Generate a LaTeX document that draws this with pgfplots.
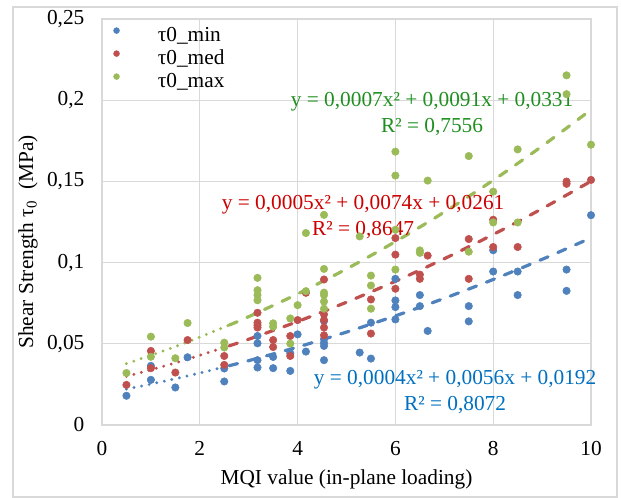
\documentclass[border=0pt]{standalone}
\usepackage{fontspec}
\setmainfont{Liberation Serif}
\usepackage{pgfplots}
\pgfplotsset{compat=1.18}

\definecolor{cblue}{HTML}{4F81BD}
\definecolor{cred}{HTML}{C0504D}
\definecolor{cgreen}{HTML}{9BBB59}
\definecolor{tblue}{HTML}{0070C0}
\definecolor{tred}{HTML}{CC0000}
\definecolor{tgreen}{HTML}{1F8F1F}
\definecolor{gridgray}{HTML}{D9D9D9}
\newcommand{\cf}{\fontsize{16}{19}\selectfont}

\pgfplotsset{
  pts/.style={only marks, mark=*, mark size=2.8pt, color=#1},
  trdot/.style={forget plot, smooth, color=#1, line width=2.4pt, line cap=round, dash pattern=on 0pt off 5.8pt},
  trdash/.style={forget plot, smooth, color=#1, line width=2.4pt, line cap=round, dash pattern=on 6.5pt off 8pt},
}

\begin{document}
\begin{tikzpicture}
\begin{axis}[
  width=366.75pt, height=304.5pt, scale only axis,
  xmin=0, xmax=10, ymin=0, ymax=0.25,
  xtick={0,2,4,6,8,10}, xticklabels={0,2,4,6,8,10},
  ytick={0,0.05,0.1,0.15,0.2,0.25},
  yticklabels={0,{0,05},{0,1},{0,15},{0,2},{0,25}},
  major tick length=0pt,
  tick label style={font=\cf},
  xticklabel style={yshift=-8.7pt},
  yticklabel style={xshift=-9.7pt},
  grid=major,
  major grid style={draw=gridgray, line width=1pt},
  axis line style={draw=gridgray, line width=1pt},
  clip=false,
  legend style={at={(0,1)}, anchor=north west, xshift=8.3pt, yshift=-5.75pt,
    draw=none, fill=none, inner sep=0pt, row sep=2.75pt, column sep=0pt,
    font=\cf, nodes={inner sep=0pt, text height=11pt, text depth=3.5pt}},
  legend cell align=left,
  legend image code/.code={\fill (0pt,4.5pt) circle (2.2pt); \path (-2.2pt,0pt) (30.75pt,0pt);},
]

% tau0_min
\addplot[pts=cblue] coordinates {
 (0.5,0.018) (1,0.0364) (1,0.0278) (1.5,0.0231) (1.75,0.0417)
 (2.5,0.0348) (2.5,0.0268)
 (3.18,0.0548) (3.18,0.0503) (3.18,0.0399) (3.18,0.0354)
 (3.5,0.0419) (3.5,0.035) (3.85,0.0442) (3.85,0.0333) (4,0.0558) (4.17,0.0452)
 (4.54,0.064) (4.54,0.0528) (4.54,0.0505) (4.54,0.0487) (4.54,0.0399)
 (5.27,0.0446) (5.5,0.063) (5.5,0.0409)
 (6,0.090) (6,0.0767) (6,0.0726) (6,0.065)
 (6.5,0.080) (6.5,0.0732) (6.66,0.0579)
 (7.5,0.0732) (7.5,0.0638) (8,0.1076) (8,0.0945)
 (8.5,0.0945) (8.5,0.080) (9.5,0.0957) (9.5,0.0826) (10,0.1292)
};
\addlegendentry{τ0\_min}

% tau0_med
\addplot[pts=cred] coordinates {
 (0.5,0.0247) (1,0.0456) (1,0.035) (1.5,0.0323) (1.75,0.0523)
 (2.5,0.0425) (2.5,0.037)
 (3.18,0.0691) (3.18,0.0630) (3.18,0.0615) (3.18,0.060)
 (3.5,0.0523) (3.5,0.048) (3.85,0.0548) (3.85,0.0425) (4,0.0646) (4.17,0.0814)
 (4.54,0.0896) (4.54,0.0681) (4.54,0.0646) (4.54,0.060) (4.54,0.0552)
 (5.5,0.0773) (5.5,0.0563)
 (6,0.1151) (6,0.1049) (6,0.0839)
 (6.5,0.0926) (6.5,0.090) (6.66,0.1043)
 (7.5,0.1145) (7.5,0.090) (8,0.1264) (8,0.1096)
 (8.5,0.1096) (9.5,0.1499) (9.5,0.1485) (10,0.1509)
};
\addlegendentry{τ0\_med}

% tau0_max
\addplot[pts=cgreen] coordinates {
 (0.5,0.032) (1,0.0544) (1,0.042) (1.5,0.0411) (1.75,0.0628)
 (2.5,0.0507) (2.5,0.0477)
 (3.18,0.0906) (3.18,0.083) (3.18,0.080) (3.18,0.0768)
 (3.5,0.0626) (3.5,0.0605) (3.85,0.0656) (3.85,0.0501) (4,0.0738)
 (4.17,0.1182) (4.17,0.0824)
 (4.54,0.1294) (4.54,0.0961) (4.54,0.0815) (4.54,0.080) (4.54,0.076) (4.54,0.0716)
 (5.27,0.1161) (5.5,0.092) (5.5,0.0859) (5.5,0.0716)
 (6,0.1683) (6,0.1536) (6,0.1202) (6,0.0957)
 (6.5,0.1075) (6.5,0.106) (6.66,0.1505)
 (7.5,0.1656) (7.5,0.1067) (8,0.1437) (8,0.1247)
 (8.5,0.1697) (8.5,0.1247) (9.5,0.2153) (9.5,0.2037) (10,0.1726)
};
\addlegendentry{τ0\_max}

% trend lines (values of the printed polynomials)
\addplot[trdot=cblue] coordinates {(0.5,0.0221) (1,0.0252) (1.5,0.0285) (2,0.032) (2.6,0.0365)};
\addplot[trdash=cblue] coordinates {(2.6,0.0365) (3,0.0396) (4,0.048) (5,0.0572) (6,0.0672) (7,0.078) (8,0.0896) (9,0.102) (10,0.1152)};
\addplot[trdot=cred] coordinates {(0.5,0.0299) (1,0.034) (1.5,0.0383) (2,0.0429) (2.6,0.0487)};
\addplot[trdash=cred] coordinates {(2.6,0.0487) (3,0.0528) (4,0.0637) (5,0.0756) (6,0.0885) (7,0.1024) (8,0.1173) (9,0.1332) (10,0.1501)};
\addplot[trdot=cgreen] coordinates {(0.5,0.0378) (1,0.0429) (1.5,0.0483) (2,0.0541) (2.6,0.0615)};
\addplot[trdash=cgreen] coordinates {(2.6,0.0615) (3,0.0667) (4,0.0807) (5,0.0961) (6,0.1129) (7,0.1311) (8,0.1507) (9,0.1717) (10,0.1941)};

% trend line labels
\node[tgreen, font=\fontsize{16}{19.5}\selectfont, align=center] at (axis cs:6.75,0.1916)
  {y = 0,0007x² + 0,0091x + 0,0331\\R² = 0,7556};
\node[tred, font=\fontsize{16}{19.5}\selectfont, align=center] at (axis cs:5.34,0.1281)
  {y = 0,0005x² + 0,0074x + 0,0261\\R² = 0,8647};
\node[tblue, font=\fontsize{16}{19.5}\selectfont, align=center] at (axis cs:7.22,0.020)
  {y = 0,0004x² + 0,0056x + 0,0192\\R² = 0,8072};

% axis titles
\node[font=\cf] at ([yshift=-40.5pt]rel axis cs:0.5,0) {MQI value (in-plane loading)};
\node[font=\cf, xshift=-55.5pt, yshift=-15pt, rotate=90] at (rel axis cs:0,0.5) {Shear Strength τ\textsubscript{0}\ \ (MPa)};

% chart area frame and page extent
\draw[gridgray, line width=1.1pt] ([xshift=-66.75pt,yshift=-54pt]rel axis cs:0,0) rectangle ([xshift=19.5pt,yshift=9pt]rel axis cs:1,1);
\path ([xshift=-76.5pt,yshift=-54.75pt]rel axis cs:0,0) rectangle ([xshift=22.5pt,yshift=14.25pt]rel axis cs:1,1);
\end{axis}
\end{tikzpicture}
\end{document}
